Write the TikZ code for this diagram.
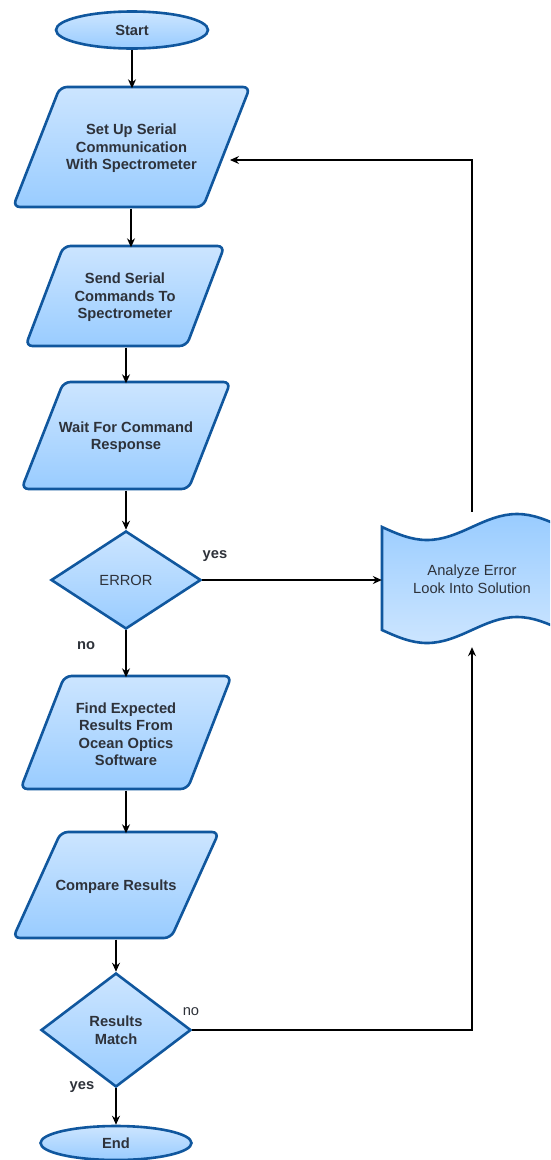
\documentclass[tikz,border=0pt]{standalone}
\usepackage{fontspec}
\setmainfont{Liberation Sans}
\usetikzlibrary{shapes.geometric,arrows.meta,calc}
\definecolor{edgeblue}{HTML}{10579E}
\definecolor{filltop}{HTML}{CCE5FF}
\definecolor{fillbot}{HTML}{99CCFF}
\definecolor{txt}{HTML}{2E323A}

\tikzset{
  every node/.style={font=\fontsize{14.7}{17.5}\selectfont\bfseries, text=txt, align=center},
  plain/.style={font=\fontsize{14.7}{17.5}\selectfont},
  shapeline/.style={draw=edgeblue, line width=2.6pt, top color=filltop, bottom color=fillbot},
  frame/.style={inner sep=0pt},
  terminal/.style={shapeline, shape=ellipse, inner sep=0pt, minimum width=152pt},
  decision/.style={shapeline, shape=diamond, inner sep=0pt, minimum width=150pt},
  arr/.style={draw=black, line width=1.2pt, -{Stealth[length=9pt,width=8pt,inset=3pt]}},
  lbl/.style={inner sep=0pt},
}

% parallelogram box: name, cx, cy, edge width, height, slant, text
\newcommand\pgrambox[7]{%
  \path[shapeline, rounded corners=7pt]
    ({#2-#4/2+#6/2},{#3-#5/2}) -- ({#2+#4/2+#6/2},{#3-#5/2}) --
    ({#2+#4/2-#6/2},{#3+#5/2}) -- ({#2-#4/2-#6/2},{#3+#5/2}) -- cycle;
  \node[frame, minimum width=#4pt, minimum height=#5pt] (#1) at (#2,{#3+1.5}) {#7};
}

\begin{document}
\begin{tikzpicture}[x=1pt, y=-1pt]
  \clip (0,0) rectangle (550,1160);
  \fill[white] (0,0) rectangle (550,1160);

  % terminals and decisions
  \node[terminal, minimum height=37pt] (start) at (132,30) {Start};
  \node[terminal, minimum height=34pt, minimum width=151pt] (end) at (116,1143) {End};
  \node[decision, minimum height=98pt, plain] (errq) at (126,580) {ERROR};
  \node[decision, minimum height=114pt] (match) at (116,1030) {Results\\Match};

  % process boxes
  \pgrambox{b1}{131.5}{147}{190}{120}{47}{Set Up Serial\\Communication\\With Spectrometer}
  \pgrambox{b2}{125}{296}{161}{100}{38}{Send Serial\\Commands To\\Spectrometer}
  \pgrambox{b3}{126}{435.5}{167}{107}{42}{Wait For Command\\Response}
  \pgrambox{b4}{126}{732.5}{167}{113}{44}{Find Expected\\Results From\\Ocean Optics\\Software}
  \pgrambox{b5}{116}{885}{158}{106}{48}{Compare Results}

  % wavy document shape for the error analysis
  \path[shapeline, top color=fillbot, bottom color=filltop]
    (382,527) sin (427,540) cos (472,527) sin (517,514) cos (562,527)
    -- (562,630) sin (517,617) cos (472,630) sin (427,643) cos (382,630) -- cycle;
  \node[frame, plain, minimum width=180pt, minimum height=134pt] (err) at (472,579)
    {Analyze Error\\Look Into Solution};
  \coordinate (b1in) at (230,160);

  % main flow
  \draw[arr] (start.south) -- (start.south |- b1.north);
  \draw[arr] (b1.south -| 131,0) -- (131,0 |- b2.north);
  \draw[arr] (b2.south -| 126,0) -- (126,0 |- b3.north);
  \draw[arr] (b3.south) -- (errq.north);
  \draw[arr] (errq.south) -- (errq.south |- b4.north);
  \draw[arr] (b4.south) -- (b4.south |- b5.north);
  \draw[arr] (b5.south) -- (match.north);
  \draw[arr] (match.south) -- (end.north);

  % branches
  \draw[arr] (errq.east) -- (err.west |- errq.east);
  \draw[arr] (match.east) -| ($(err.south)+(0,1)$);
  \draw[arr] (err.north) |- (b1in);

  % branch labels
  \node[lbl] (yes1) at (215,556) {yes};
  \node[lbl] (no1) at (86,646) {no};
  \node[lbl, plain] (no2) at (191,1012) {no};
  \node[lbl] (yes2) at (82,1087) {yes};
\end{tikzpicture}
\end{document}
